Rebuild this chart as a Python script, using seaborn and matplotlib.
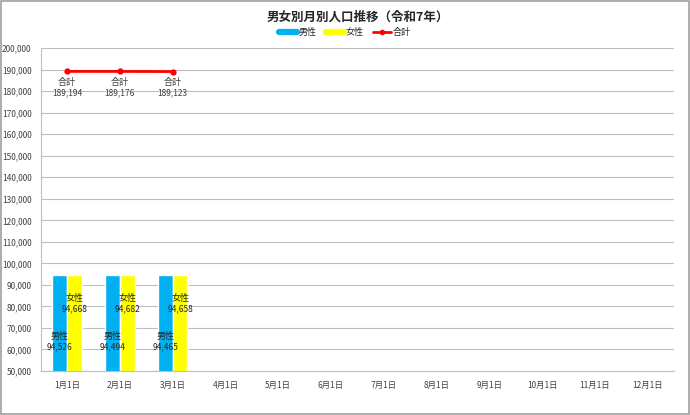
import seaborn as sns
import matplotlib.pyplot as plt
import pandas as pd
from matplotlib.ticker import FuncFormatter, MultipleLocator
from matplotlib.patches import Rectangle

months = ['1月1日', '2月1日', '3月1日', '4月1日', '5月1日', '6月1日',
          '7月1日', '8月1日', '9月1日', '10月1日', '11月1日', '12月1日']
data_months = ['1月1日', '2月1日', '3月1日']
male = [94526, 94494, 94465]
female = [94668, 94682, 94658]
total = [189194, 189176, 189123]

sns.set_style('white')
plt.rcParams['font.family'] = ['Noto Sans CJK JP', 'DejaVu Sans']

df = pd.DataFrame({
    'month': data_months * 2,
    'sex': ['男性'] * 3 + ['女性'] * 3,
    'value': male + female,
})

fig = plt.figure(figsize=(6.9, 4.15), dpi=100)
ax = fig.add_axes([0.059, 0.106, 0.918, 0.778])

sns.barplot(data=df, x='month', y='value', hue='sex', order=months,
            hue_order=['男性', '女性'], palette=['#00B0F0', '#FFFF00'],
            width=0.56, gap=0, saturation=1, ax=ax, legend=False)
sns.pointplot(x=data_months, y=total, order=months, color='#FF0000',
              markers='o', markersize=3, linewidth=2, ax=ax)

ax.set_ylim(50000, 200000)
ax.yaxis.set_major_locator(MultipleLocator(10000))
ax.yaxis.set_major_formatter(FuncFormatter(lambda v, p: f'{int(v):,}'))
ax.grid(axis='y', color='#BFBFBF', linewidth=0.8)
ax.set_axisbelow(True)
ax.set_xlim(-0.5, 11.5)
ax.set_xlabel('')
ax.set_ylabel('')
ax.tick_params(labelsize=6, length=3, color='#BFBFBF', direction='out',
               labelcolor='#404040')
ax.tick_params(axis='x', length=4)
for s in ['top', 'right']:
    ax.spines[s].set_visible(False)
for s in ['left', 'bottom']:
    ax.spines[s].set_color('#BFBFBF')

# data labels
bw = 0.28
for i in range(3):
    ax.text(i - bw / 2, 66000, '男性', ha='center', va='center', fontsize=6.5)
    ax.text(i - bw / 2, 61300, f'{male[i]:,}', ha='center', va='center', fontsize=6)
    ax.text(i + bw / 2, 83500, '女性', ha='center', va='center', fontsize=6.5)
    ax.text(i + bw / 2, 78800, f'{female[i]:,}', ha='center', va='center', fontsize=6)
    ax.text(i, 184200, '合計', ha='center', va='center', fontsize=6.5, color='#404040')
    ax.text(i, 179300, f'{total[i]:,}', ha='center', va='center', fontsize=6,
            color='#404040')

ax.set_title('男女別月別人口推移（令和7年）', fontsize=9, fontweight='bold', pad=20)

handles = [plt.Line2D([], [], color='#00B0F0', linewidth=4.5),
           plt.Line2D([], [], color='#FFFF00', linewidth=4.5),
           plt.Line2D([], [], color='#FF0000', linewidth=2, marker='o', markersize=3)]
fig.legend(handles, ['男性', '女性', '合計'], loc='center', bbox_to_anchor=(0.5, 0.922),
           ncol=3, frameon=False, fontsize=6.5, handlelength=2.0, columnspacing=1.0,
           handletextpad=0.2)

fig.patches.append(Rectangle((0.002, 0.003), 0.996, 0.994, transform=fig.transFigure,
                             fill=False, edgecolor='#A0A0A0', linewidth=1.2))

fig.savefig('out.png', dpi=100)
